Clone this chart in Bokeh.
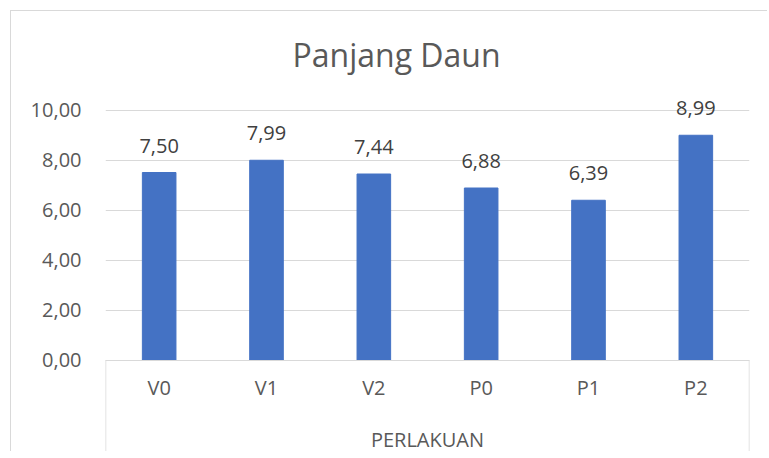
from bokeh.plotting import figure
from bokeh.models import (Range1d, FixedTicker, CustomJSTickFormatter, ColumnDataSource, Title)
from bokeh.core.properties import value
from bokeh.embed import file_html
from bokeh.resources import INLINE

categories = ["V0", "V1", "V2", "P0", "P1", "P2"]
panjang = [7.50, 7.99, 7.44, 6.88, 6.39, 8.99]
y_ticks = [0, 2, 4, 6, 8, 10]
chart_title = "Panjang Daun"
x_title = "PERLAKUAN"

FONT = "Open Sans"
TXT = "#595959"
GRID = "#d9d9d9"

idx = list(range(len(categories)))
labels = [f"{v:.2f}".replace(".", ",") for v in panjang]
src = ColumnDataSource(dict(x=idx, y=panjang, lab=labels))

y_lo, y_hi = -3.7, 11.02
p = figure(width=757, height=441, output_backend="svg", toolbar_location=None,
           x_range=Range1d(-0.5, len(categories) - 0.5), y_range=Range1d(y_lo, y_hi),
           min_border_left=94, min_border_right=19, min_border_top=73, min_border_bottom=0)
p.styles = {"margin": "10px 0 0 10px", "border-left": "1px solid #d9d9d9", "border-top": "1px solid #d9d9d9"}
p.outline_line_color = None
p.background_fill_color = "white"
p.border_fill_color = "white"

p.title = Title(text=chart_title, align="left", offset=187, standoff=17,
                text_font=FONT, text_font_size="32px", text_font_style="normal", text_color=TXT)

# category box lines (left and right edges of the category axis area)
p.segment(x0=[idx[0] - 0.5, idx[-1] + 0.5], y0=[0, 0], x1=[idx[0] - 0.5, idx[-1] + 0.5], y1=[y_lo, y_lo],
          line_color=GRID, line_width=1.5)

p.vbar(x="x", top="y", width=0.313, bottom=0, source=src, color="#4472C4")
p.text(x="x", y="y", text="lab", source=src, text_align="center", text_baseline="alphabetic",
       y_offset=-27, text_font=value(FONT), text_font_size="20px", text_color="#404040")

# x axis
xa = p.xaxis[0]
xa.fixed_location = 0
xa.ticker = FixedTicker(ticks=idx)
xa.major_label_overrides = {i: c for i, c in zip(idx, categories)}
xa.major_tick_line_color = None
xa.minor_tick_line_color = None
xa.major_tick_out = 0
xa.major_tick_in = 0
xa.axis_line_color = GRID
xa.major_label_standoff = 14
xa.major_label_text_font = FONT
xa.major_label_text_font_size = "20px"
xa.major_label_text_color = TXT
xa.axis_label = x_title
xa.axis_label_standoff = 21
xa.axis_label_text_font = FONT
xa.axis_label_text_font_size = "20px"
xa.axis_label_text_font_style = "normal"
xa.axis_label_text_color = TXT

# y axis
ya = p.yaxis[0]
ya.ticker = FixedTicker(ticks=y_ticks)
ya.formatter = CustomJSTickFormatter(code="return tick.toFixed(2).replace('.', ',');")
ya.axis_line_color = None
ya.major_tick_line_color = None
ya.minor_tick_line_color = None
ya.major_tick_out = 0
ya.major_label_standoff = 24
ya.major_label_text_font = FONT
ya.major_label_text_font_size = "20px"
ya.major_label_text_color = TXT

p.xgrid.grid_line_color = None
p.ygrid.ticker = FixedTicker(ticks=y_ticks)
p.ygrid.grid_line_color = GRID

open("out.html", "w").write(file_html(p, INLINE))
